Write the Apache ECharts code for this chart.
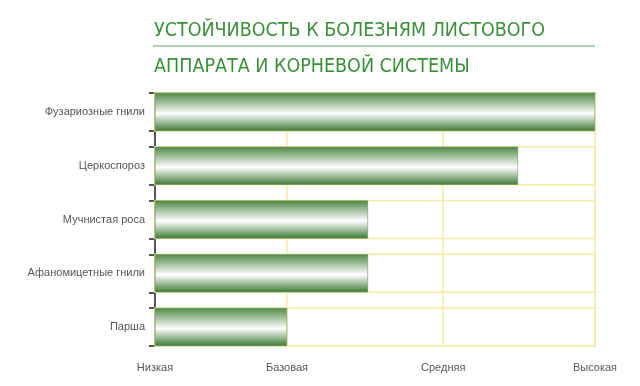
<!DOCTYPE html>
<html>
<head>
<meta charset="utf-8">
<script src="https://cdn.jsdelivr.net/npm/echarts@6/dist/echarts.min.js"></script>
<style>
  html, body { margin: 0; padding: 0; background: #fff; }
  #chart { width: 640px; height: 386px; }
</style>
</head>
<body>
<div id="chart"></div>
<script>
// данные
var categories = ["Фузариозные гнили", "Церкоспороз", "Мучнистая роса", "Афаномицетные гнили", "Парша"];
var values = [100, 82.5, 48.4, 48.4, 30];
var levelNames = ["Низкая", "Базовая", "Средняя", "Высокая"];
var levelValues = [0, 30, 65.5, 100];

var titleLine1 = "УСТОЙЧИВОСТЬ К БОЛЕЗНЯМ ЛИСТОВОГО";
var titleLine2 = "АППАРАТА И КОРНЕВОЙ СИСТЕМЫ";

// раскладка
var plotLeft = 155, plotRight = 595, plotTop = 93, plotBottom = 346;
var barH = 38;
var plotH = plotBottom - plotTop;
var gap = (plotH - barH * categories.length) / (categories.length - 1);
var pitch = barH + gap;

// засечки на левой оси по краям полос
var edgeTicks = [];
for (var i = 0; i < categories.length; i++) {
  edgeTicks.push(i * pitch, i * pitch + barH);
}

var grid = "#f7eaa4";
var axisColor = "#555";
var labelColor = "#555";
var font = "'Liberation Sans', Arial, sans-serif";
var titleFont = "'Liberation Sans Narrow', 'DejaVu Sans Condensed', 'Roboto', sans-serif";

var myChart = echarts.init(document.getElementById("chart"));
myChart.setOption({
  animation: false,
  title: [
    {
      text: titleLine1,
      left: plotLeft - 1,
      top: 21,
      padding: 0,
      textStyle: { fontFamily: titleFont, fontSize: 19.5, fontWeight: "normal", color: "#3a8f3a" }
    },
    {
      text: titleLine2,
      left: plotLeft - 1,
      top: 57,
      padding: 0,
      textStyle: { fontFamily: titleFont, fontSize: 19.5, fontWeight: "normal", color: "#3a8f3a" }
    }
  ],
  graphic: [
    {
      type: "line",
      shape: { x1: plotLeft - 2, y1: 46, x2: plotRight, y2: 46 },
      style: { stroke: "#8fc38f", lineWidth: 1.5 }
    }
  ],
  grid: [
    // рамка: сетка и оси
    { left: plotLeft, right: 640 - plotRight, top: plotTop, bottom: 386 - plotBottom },
    // полосы
    { left: plotLeft, right: 640 - plotRight, top: plotTop - gap / 2, bottom: 386 - plotBottom - gap / 2 }
  ],
  xAxis: [
    {
      gridIndex: 0,
      type: "value",
      min: 0,
      max: 100,
      axisLine: { show: true, lineStyle: { color: axisColor, width: 2 } },
      axisTick: { show: false, customValues: levelValues },
      axisLabel: {
        customValues: levelValues,
        margin: 16,
        color: labelColor,
        fontFamily: font,
        fontSize: 11,
        formatter: function(v) {
          return levelNames[levelValues.indexOf(v)];
        }
      },
      splitLine: { show: true, lineStyle: { color: grid, width: 1.5 } }
    },
    {
      gridIndex: 1,
      type: "value",
      min: 0,
      max: 100,
      show: false
    }
  ],
  yAxis: [
    {
      gridIndex: 0,
      type: "value",
      min: 0,
      max: plotH,
      inverse: true,
      axisLine: { show: true, lineStyle: { color: axisColor, width: 2 } },
      axisTick: { show: true, length: 6, customValues: edgeTicks, lineStyle: { color: axisColor, width: 2 } },
      axisLabel: { show: false },
      splitLine: { show: false }
    },
    {
      gridIndex: 1,
      type: "category",
      inverse: true,
      data: categories,
      axisLine: { show: false },
      axisTick: { show: false },
      axisLabel: { margin: 10, color: labelColor, fontFamily: font, fontSize: 11 }
    }
  ],
  series: [
    {
      type: "bar",
      xAxisIndex: 1,
      yAxisIndex: 1,
      data: values,
      barWidth: barH,
      showBackground: true,
      backgroundStyle: { color: "rgba(0,0,0,0)", borderColor: grid, borderWidth: 1.5 },
      itemStyle: {
        color: new echarts.graphic.LinearGradient(0, 0, 0, 1, [
          { offset: 0, color: "#4f8746" },
          { offset: 0.54, color: "#ffffff" },
          { offset: 1, color: "#3d7a35" }
        ]),
        borderColor: "#5b8f4f",
        borderWidth: 0.5
      }
    }
  ]
});
</script>
</body>
</html>
